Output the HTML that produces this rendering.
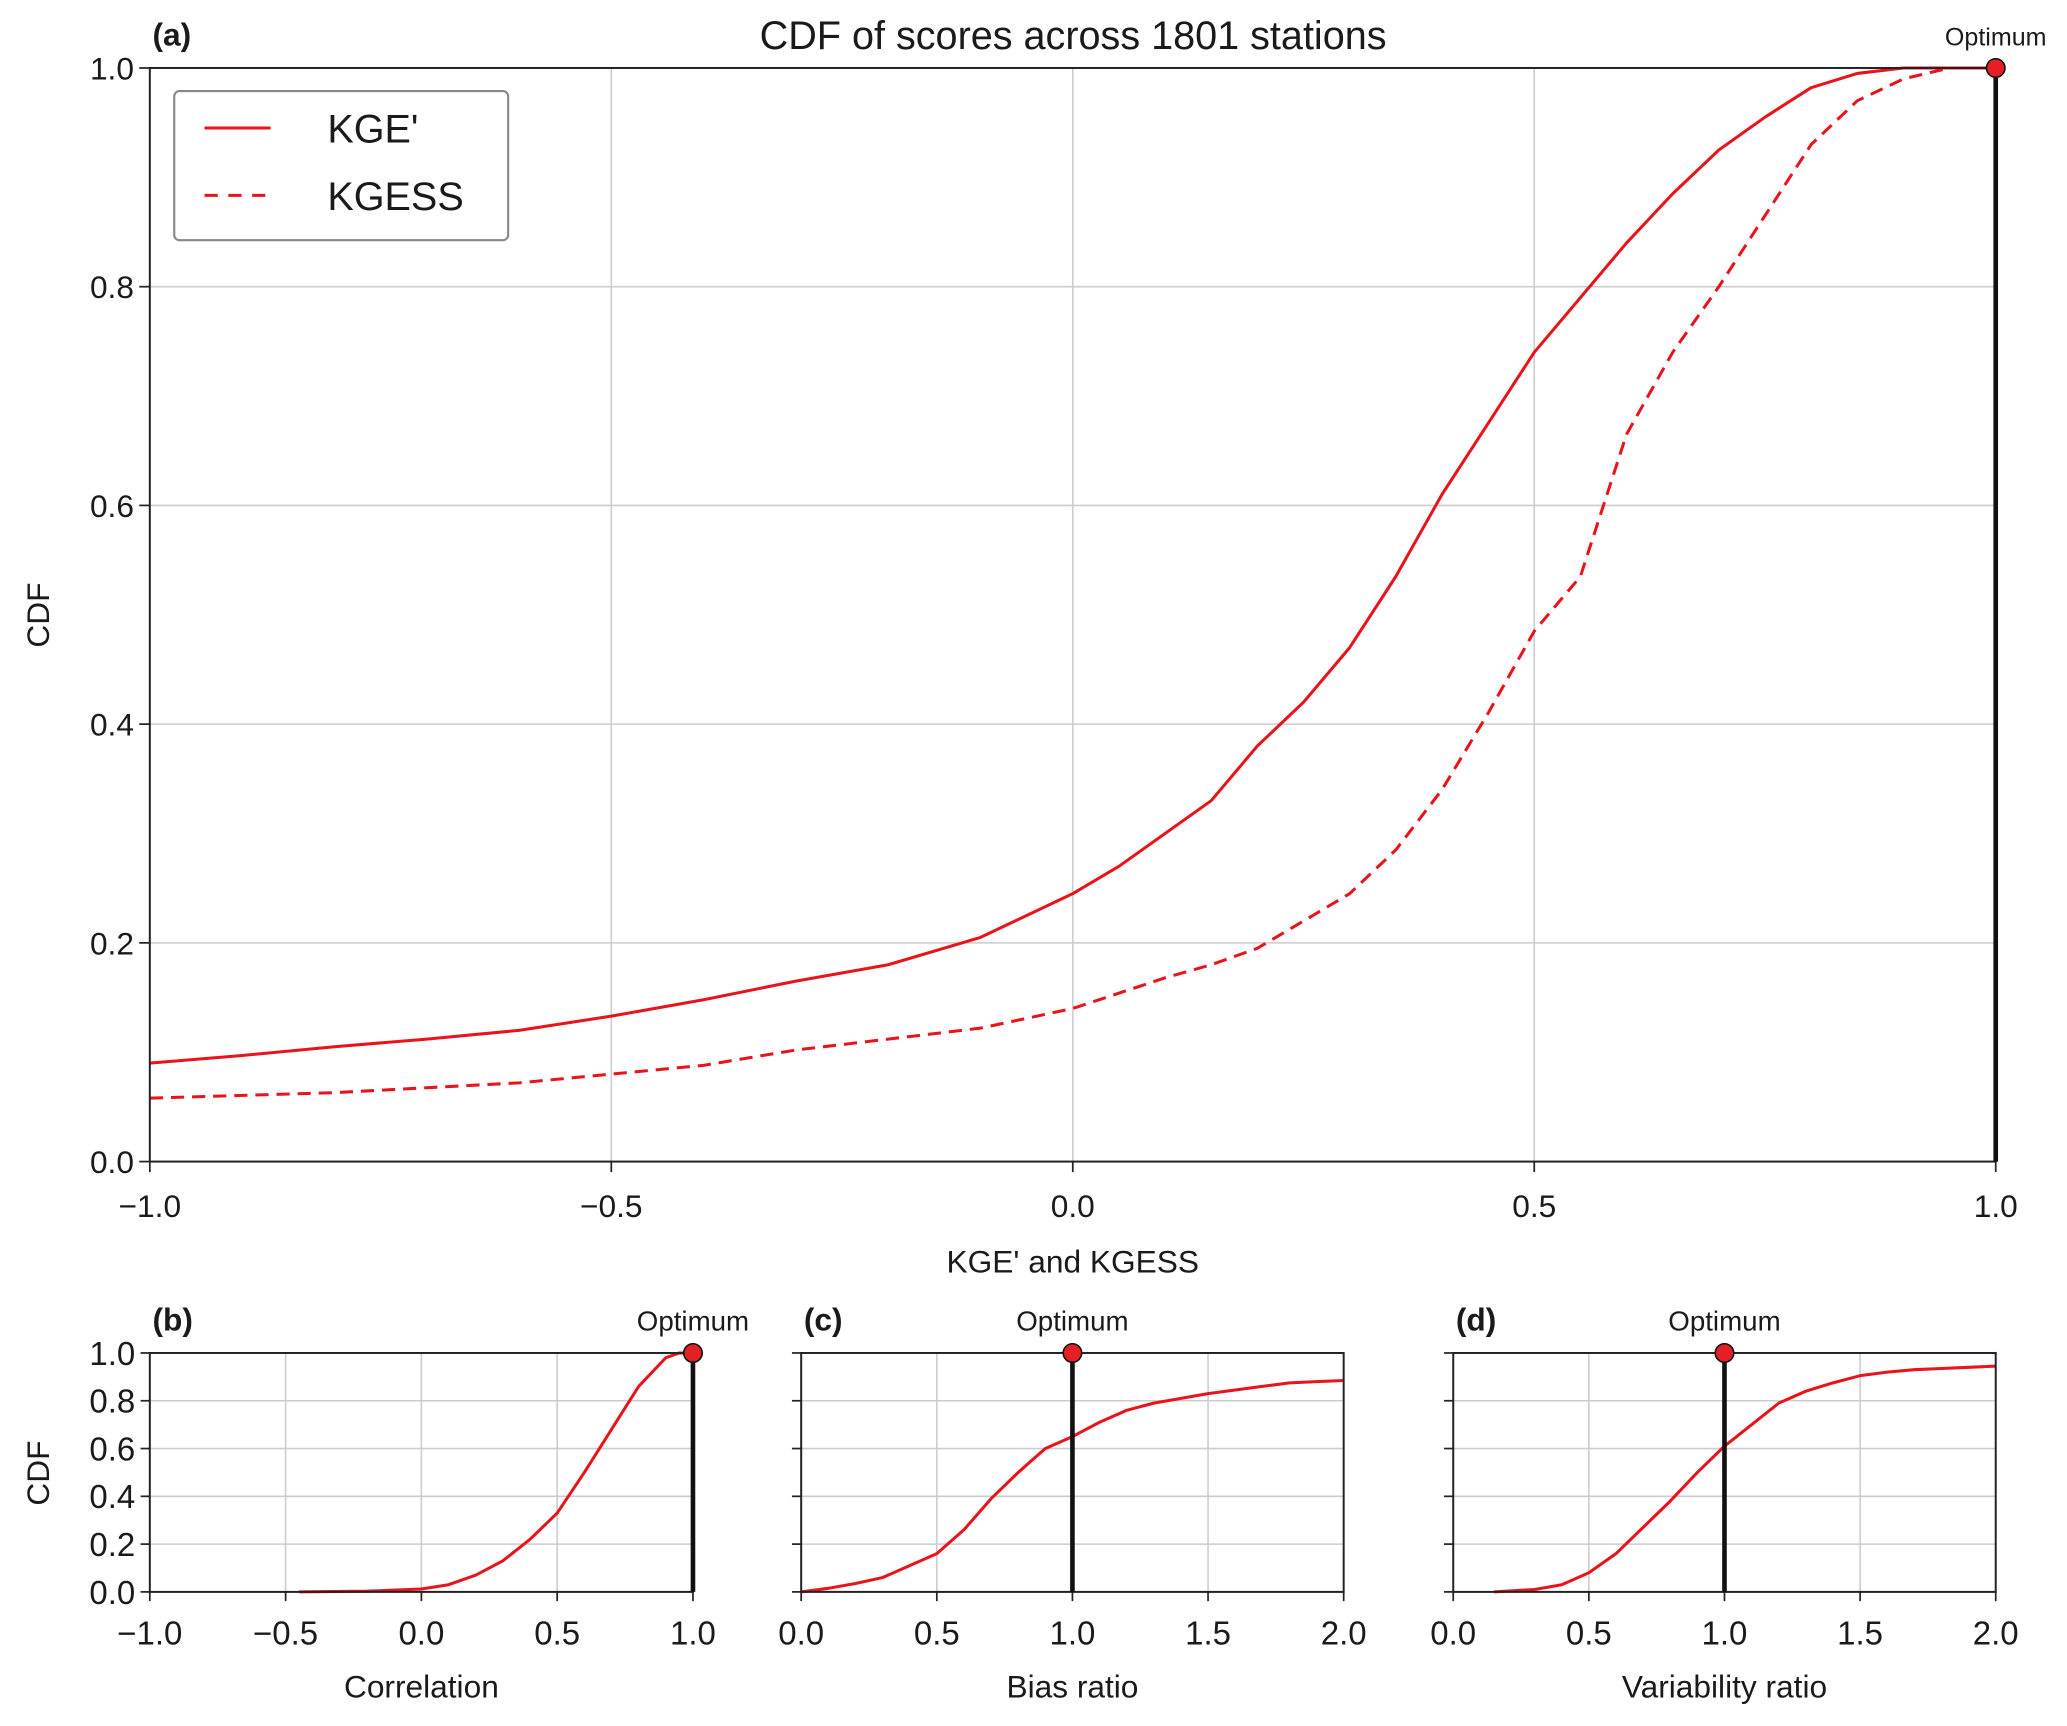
<!DOCTYPE html>
<html><head><meta charset="utf-8"><style>
html,body{margin:0;padding:0;background:#fff}
svg{display:block}
text{font-family:"Liberation Sans",sans-serif;fill:#1a1a1a}
</style></head><body>
<svg id="fig" width="2067" height="1726" viewBox="0 0 1566 1307.6" preserveAspectRatio="none" xmlns="http://www.w3.org/2000/svg"></svg>
<script>
// ---- data ----
const kgeX = [-1,-0.9,-0.8,-0.7,-0.6,-0.5,-0.4,-0.3,-0.2,-0.1,0,0.05,0.1,0.15,0.2,0.25,0.3,0.35,0.4,0.45,0.5,0.55,0.6,0.65,0.7,0.75,0.8,0.85,0.9,0.95,1.0];
const kgeY = [0.09,0.097,0.105,0.112,0.12,0.133,0.148,0.165,0.18,0.205,0.245,0.27,0.3,0.33,0.38,0.42,0.47,0.535,0.61,0.675,0.74,0.79,0.84,0.885,0.925,0.955,0.982,0.995,1.0,1.0,1.0];
const kgessX = [-1,-0.8,-0.6,-0.5,-0.4,-0.3,-0.2,-0.1,0,0.1,0.15,0.2,0.25,0.3,0.35,0.4,0.45,0.5,0.55,0.6,0.65,0.7,0.75,0.8,0.85,0.9,0.95,1.0];
const kgessY = [0.058,0.063,0.072,0.08,0.088,0.102,0.112,0.122,0.14,0.168,0.18,0.195,0.22,0.245,0.285,0.34,0.41,0.485,0.535,0.665,0.74,0.80,0.865,0.93,0.97,0.99,1.0,1.0];
const corrX = [-0.45,-0.2,0,0.1,0.2,0.3,0.4,0.5,0.6,0.7,0.8,0.9,0.95,1.0];
const corrY = [0.0,0.003,0.012,0.03,0.07,0.13,0.22,0.33,0.5,0.68,0.86,0.98,1.0,1.0];
const biasX = [0,0.1,0.2,0.3,0.4,0.5,0.6,0.7,0.8,0.9,1.0,1.1,1.2,1.3,1.4,1.5,1.6,1.7,1.8,1.9,2.0];
const biasY = [0,0.015,0.035,0.06,0.11,0.16,0.26,0.39,0.5,0.6,0.65,0.71,0.76,0.79,0.81,0.83,0.845,0.86,0.875,0.88,0.885];
const varX = [0.15,0.3,0.4,0.5,0.6,0.7,0.8,0.9,1.0,1.1,1.2,1.3,1.4,1.5,1.6,1.7,1.8,1.9,2.0];
const varY = [0,0.01,0.03,0.08,0.16,0.27,0.38,0.5,0.61,0.7,0.79,0.84,0.875,0.905,0.92,0.93,0.935,0.94,0.945];
const yTicks = [0,0.2,0.4,0.6,0.8,1.0];
const yTickLabels = ["0.0","0.2","0.4","0.6","0.8","1.0"];
const xTicksA = [-1,-0.5,0,0.5,1];
const xTickLabelsA = ["\u22121.0","\u22120.5","0.0","0.5","1.0"];
const xTicksR = [0,0.5,1,1.5,2];
const xTickLabelsR = ["0.0","0.5","1.0","1.5","2.0"];

const NS="http://www.w3.org/2000/svg";
const svg=document.getElementById('fig');
function mk(tag,attrs,parent){const e=document.createElementNS(NS,tag);for(const k in attrs)e.setAttribute(k,attrs[k]);(parent||svg).appendChild(e);return e;}
function txt(s,attrs,parent){const e=mk('text',attrs,parent);e.textContent=s;return e;}

function panel(o){
  const g=mk('g',{});
  
  
  const sx=v=>o.x0+(v-o.xmin)/(o.xmax-o.xmin)*(o.x1-o.x0);
  const sy=v=>o.y1-(v-0)/(1-0)*(o.y1-o.y0);
  o.xt.forEach((v,i)=>{const l=mk('line',{x1:sx(v),x2:sx(v),y1:o.y0,y2:o.y1,stroke:'#cccccc','stroke-width':1.2},g);
    });
  yTicks.forEach(v=>{const l=mk('line',{x1:o.x0,x2:o.x1,y1:sy(v),y2:sy(v),stroke:'#cccccc','stroke-width':1.2},g);
    });
  o.xt.forEach((v,i)=>{mk('line',{x1:sx(v),x2:sx(v),y1:o.y1,y2:o.y1+o.tick,stroke:'#222','stroke-width':1.3},g);
    const t=txt(o.xl[i],{x:sx(v),y:o.y1+o.xtlOff,'text-anchor':'middle','font-size':o.fs},g);
    });
  yTicks.forEach((v,i)=>{mk('line',{x1:o.x0-o.tick,x2:o.x0,y1:sy(v),y2:sy(v),stroke:'#222','stroke-width':1.3},g);
    if(o.showY){const t=txt(yTickLabels[i],{x:o.x0-o.tick-4,y:sy(v)+o.fs*0.36,'text-anchor':'end','font-size':o.fs},g);
    }});
  o.series.forEach(s=>{
    const d=s.x.map((v,i)=>(i?'L':'M')+sx(v).toFixed(2)+','+sy(s.y[i]).toFixed(2)).join(' ');
    const p=mk('path',{d:d,fill:'none',stroke:'#e8141c','stroke-width':o.lw,'stroke-dasharray':s.dash||'none','stroke-linejoin':'round'},g);
    
  });
  const f=mk('rect',{x:o.x0,y:o.y0,width:o.x1-o.x0,height:o.y1-o.y0,fill:'none',stroke:'#222','stroke-width':1.5},g);
  
  const ol=mk('line',{x1:sx(o.opt),x2:sx(o.opt),y1:o.y0,y2:o.y1,stroke:'#111','stroke-width':3.5},g);
  
  const oc=mk('circle',{cx:sx(o.opt),cy:o.y0,r:7,fill:'#e41f26',stroke:'#111','stroke-width':1.2},g);
  
  const ot=txt('Optimum',{x:sx(o.opt),y:o.y0-17,'text-anchor':'middle','font-size':o.optFs},g);
  
  const pl=txt(o.letter,{x:o.x0+2,y:o.y0-17,'font-size':24,'font-weight':'bold'},g);
  
  const xl=txt(o.xlabel,{x:(o.x0+o.x1)/2,y:o.y1+o.xlabOff,'text-anchor':'middle','font-size':o.labFs},g);
  
  return g;
}

panel({name:'panel-a',x0:113.5,x1:1512,y0:51.5,y1:880,xmin:-1,xmax:1,xt:xTicksA,xl:xTickLabelsA,tick:8,fs:24,xtlOff:42,showY:true,
  series:[{x:kgeX,y:kgeY,name:'kge-prime-line'},{x:kgessX,y:kgessY,name:'kgess-line',dash:'10,6'}],
  lw:2.3,opt:1,optFs:19,letter:'(a)',xlabel:"KGE' and KGESS",xlabOff:84,labFs:24});
panel({name:'panel-b',x0:113.5,x1:525,y0:1025,y1:1206,xmin:-1,xmax:1,xt:xTicksA,xl:xTickLabelsA,tick:7,fs:25,xtlOff:40,showY:true,
  series:[{x:corrX,y:corrY,name:'correlation-line'}],lw:2.3,opt:1,optFs:21,letter:'(b)',xlabel:'Correlation',xlabOff:80,labFs:24});
panel({name:'panel-c',x0:607,x1:1018,y0:1025,y1:1206,xmin:0,xmax:2,xt:xTicksR,xl:xTickLabelsR,tick:7,fs:25,xtlOff:40,showY:false,
  series:[{x:biasX,y:biasY,name:'bias-ratio-line'}],lw:2.3,opt:1,optFs:21,letter:'(c)',xlabel:'Bias ratio',xlabOff:80,labFs:24});
panel({name:'panel-d',x0:1101,x1:1512,y0:1025,y1:1206,xmin:0,xmax:2,xt:xTicksR,xl:xTickLabelsR,tick:7,fs:25,xtlOff:40,showY:false,
  series:[{x:varX,y:varY,name:'variability-ratio-line'}],lw:2.3,opt:1,optFs:21,letter:'(d)',xlabel:'Variability ratio',xlabOff:80,labFs:24});

const tt=txt('CDF of scores across 1801 stations',{x:813,y:37,'text-anchor':'middle','font-size':30});


const ya=txt('CDF',{x:0,y:0,'text-anchor':'middle','font-size':24,transform:'translate(37,466) rotate(-90)'});


const yb=txt('CDF',{x:0,y:0,'text-anchor':'middle','font-size':24,transform:'translate(37,1116) rotate(-90)'});



const lg=mk('g',{});


mk('rect',{x:132,y:69,width:253,height:113,rx:4,fill:'#fff',stroke:'#888','stroke-width':1.6},lg);
const l1=mk('line',{x1:155,x2:205,y1:97,y2:97,stroke:'#e8141c','stroke-width':2.3},lg);


const t1=txt("KGE'",{x:248,y:108,'font-size':30},lg);


const l2=mk('line',{x1:155,x2:205,y1:148,y2:148,stroke:'#e8141c','stroke-width':2.3,'stroke-dasharray':'10,8'},lg);


const t2=txt('KGESS',{x:248,y:159,'font-size':30},lg);


</script>
</body></html>
